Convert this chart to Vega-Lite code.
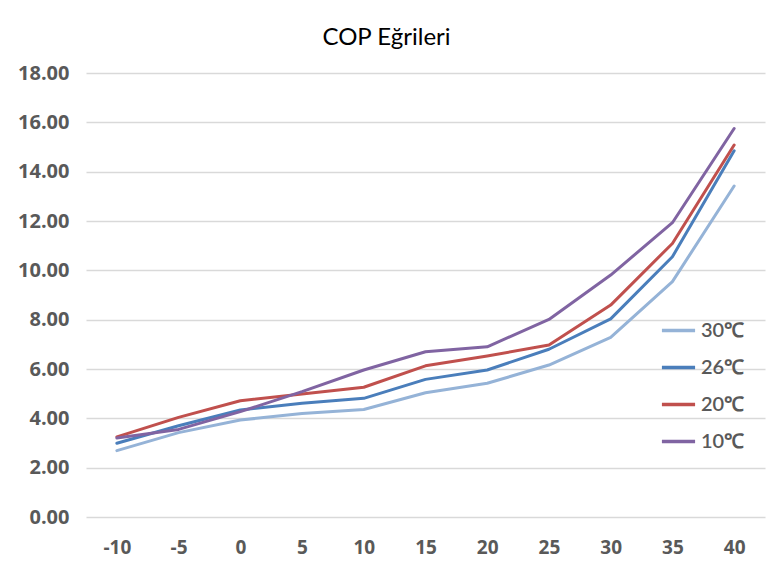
{
  "$schema": "https://vega.github.io/schema/vega-lite/v6.json",
  "width": 679,
  "height": 444,
  "autosize": {"type": "none"},
  "padding": {"left": 86, "top": 73, "right": 19, "bottom": 57},
  "background": "white",
  "title": {"text": "COP Eğrileri", "font": "Lato", "fontSize": 24, "fontWeight": "normal", "color": "#000000", "offset": 13, "anchor": "middle", "dx": -39},
  "config": {"view": {"stroke": null}},
  "data": {"values": [
    {"T": "-10", "s": "30℃", "cop": 2.69},
    {"T": "-5", "s": "30℃", "cop": 3.42},
    {"T": "0", "s": "30℃", "cop": 3.93},
    {"T": "5", "s": "30℃", "cop": 4.2},
    {"T": "10", "s": "30℃", "cop": 4.36},
    {"T": "15", "s": "30℃", "cop": 5.04},
    {"T": "20", "s": "30℃", "cop": 5.42},
    {"T": "25", "s": "30℃", "cop": 6.16},
    {"T": "30", "s": "30℃", "cop": 7.28},
    {"T": "35", "s": "30℃", "cop": 9.54},
    {"T": "40", "s": "30℃", "cop": 13.42},
    {"T": "-10", "s": "26℃", "cop": 2.99},
    {"T": "-5", "s": "26℃", "cop": 3.7},
    {"T": "0", "s": "26℃", "cop": 4.34},
    {"T": "5", "s": "26℃", "cop": 4.61},
    {"T": "10", "s": "26℃", "cop": 4.81},
    {"T": "15", "s": "26℃", "cop": 5.58},
    {"T": "20", "s": "26℃", "cop": 5.96},
    {"T": "25", "s": "26℃", "cop": 6.8},
    {"T": "30", "s": "26℃", "cop": 8.03},
    {"T": "35", "s": "26℃", "cop": 10.55},
    {"T": "40", "s": "26℃", "cop": 14.85},
    {"T": "-10", "s": "20℃", "cop": 3.25},
    {"T": "-5", "s": "20℃", "cop": 4.04},
    {"T": "0", "s": "20℃", "cop": 4.71},
    {"T": "5", "s": "20℃", "cop": 4.99},
    {"T": "10", "s": "20℃", "cop": 5.26},
    {"T": "15", "s": "20℃", "cop": 6.13},
    {"T": "20", "s": "20℃", "cop": 6.53},
    {"T": "25", "s": "20℃", "cop": 6.97},
    {"T": "30", "s": "20℃", "cop": 8.59},
    {"T": "35", "s": "20℃", "cop": 11.09},
    {"T": "40", "s": "20℃", "cop": 15.08},
    {"T": "-10", "s": "10℃", "cop": 3.2},
    {"T": "-5", "s": "10℃", "cop": 3.55},
    {"T": "0", "s": "10℃", "cop": 4.27},
    {"T": "5", "s": "10℃", "cop": 5.08},
    {"T": "10", "s": "10℃", "cop": 5.96},
    {"T": "15", "s": "10℃", "cop": 6.7},
    {"T": "20", "s": "10℃", "cop": 6.9},
    {"T": "25", "s": "10℃", "cop": 8.01},
    {"T": "30", "s": "10℃", "cop": 9.81},
    {"T": "35", "s": "10℃", "cop": 11.93},
    {"T": "40", "s": "10℃", "cop": 15.75}
  ]},
  "mark": {"type": "line", "strokeWidth": 3, "strokeJoin": "round", "strokeCap": "round"},
  "encoding": {
    "x": {
      "field": "T", "type": "ordinal",
      "sort": ["-10", "-5", "0", "5", "10", "15", "20", "25", "30", "35", "40"],
      "axis": {"title": null, "labelAngle": 0, "domain": false, "ticks": false, "grid": false,
               "labelFont": "Open Sans", "labelFontSize": 19, "labelFontWeight": "bold", "labelColor": "#595959", "labelPadding": 21}
    },
    "y": {
      "field": "cop", "type": "quantitative",
      "scale": {"domain": [0, 18], "nice": false},
      "axis": {"title": null, "values": [0, 2, 4, 6, 8, 10, 12, 14, 16, 18], "format": ".2f",
               "domain": false, "ticks": false, "grid": true, "gridColor": "#d9d9d9", "gridWidth": 1.3,
               "labelFont": "Open Sans", "labelFontSize": 20, "labelFontWeight": "bold", "labelColor": "#595959", "labelPadding": 17}
    },
    "color": {
      "field": "s", "type": "nominal",
      "sort": ["30℃", "26℃", "20℃", "10℃"],
      "scale": {"domain": ["30℃", "26℃", "20℃", "10℃"], "range": ["#95b3d7", "#4a7ebb", "#c0504d", "#8064a2"]},
      "legend": {"title": null, "orient": "none", "legendX": 574, "legendY": 239,
                 "symbolType": "stroke", "symbolStrokeWidth": 3.5, "symbolSize": 1100,
                 "labelFont": "Lato", "labelFontSize": 20, "labelFontWeight": 600, "labelColor": "#595959", "labelOffset": 4,
                 "rowPadding": 8}
    }
  }
}
